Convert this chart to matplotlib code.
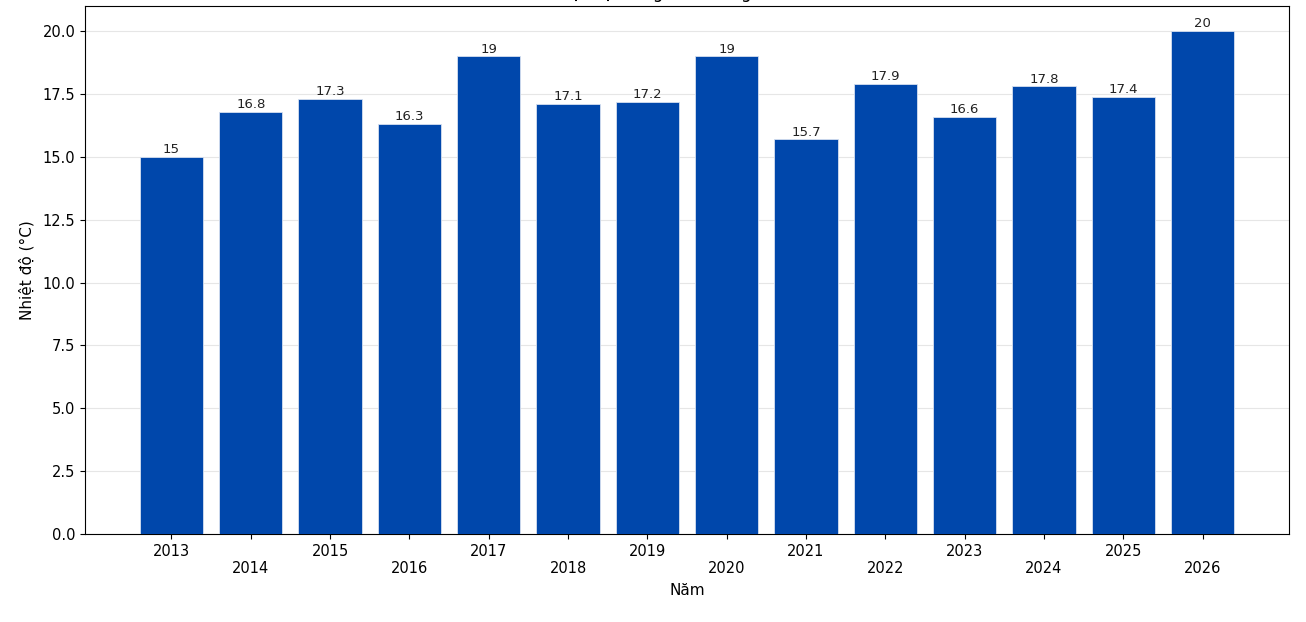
import numpy as np
import matplotlib
matplotlib.use("Agg")
import matplotlib.pyplot as plt

# Dữ liệu nhiệt độ theo năm
years = [2013, 2014, 2015, 2016, 2017, 2018, 2019, 2020, 2021, 2022, 2023, 2024, 2025, 2026]
temps = [15, 16.8, 17.3, 16.3, 19, 17.1, 17.2, 19, 15.7, 17.9, 16.6, 17.8, 17.4, 20]
value_labels = ["15", "16.8", "17.3", "16.3", "19", "17.1", "17.2", "19", "15.7", "17.9", "16.6", "17.8", "17.4", "20"]

fig = plt.figure(figsize=(13.06, 6.22), dpi=100)
ax = fig.add_axes([85 / 1306, 88 / 622, 1204 / 1306, 528 / 622])

x = np.arange(len(years))
bars = ax.bar(x, temps, width=0.8, color="#0047AB", edgecolor="#d6e0f0", linewidth=0.6, zorder=3)

# Nhãn giá trị trên mỗi cột
for b, lab in zip(bars, value_labels):
    ax.text(b.get_x() + b.get_width() / 2, b.get_height() + 0.03, lab,
            ha="center", va="bottom", fontsize=9.5, color="#222222", zorder=4)

# Nhãn trục x xen kẽ hai hàng
tick_labels = [str(y) if i % 2 == 0 else "\n" + str(y) for i, y in enumerate(years)]
ax.set_xticks(x)
ax.set_xticklabels(tick_labels, fontsize=10.5)
ax.tick_params(axis="y", labelsize=10.5)

ax.set_ylim(0, 21)
ax.set_yticks(np.arange(0, 20.1, 2.5))
ax.grid(axis="y", color="#e6e6e6", linewidth=0.8, zorder=0)

ax.set_xlabel("Năm", fontsize=11, labelpad=5)
ax.set_ylabel("Nhiệt độ (°C)", fontsize=11, labelpad=6)
ax.set_title("Nhiệt độ trung bình hàng năm (°C)", fontsize=12)

fig.savefig("out.png", dpi=100)
